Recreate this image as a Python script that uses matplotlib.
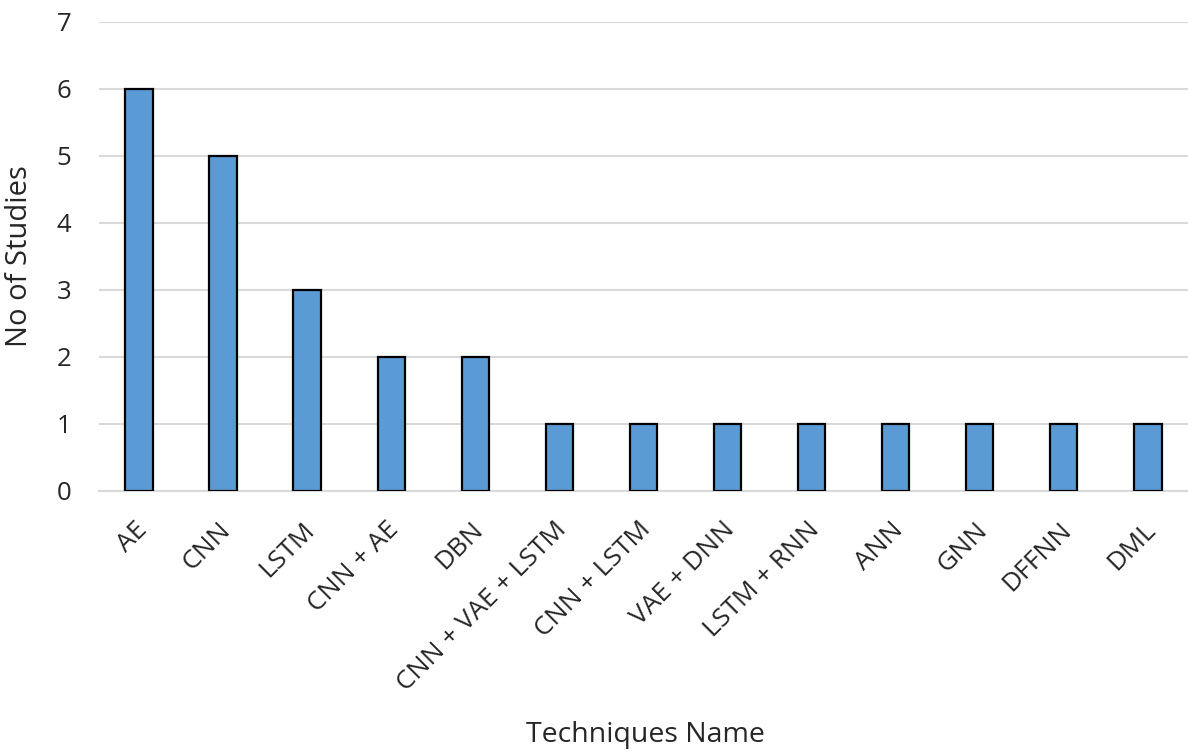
import matplotlib.pyplot as plt
import matplotlib.transforms as mtransforms

techniques = ["AE", "CNN", "LSTM", "CNN + AE", "DBN", "CNN + VAE + LSTM",
              "CNN + LSTM", "VAE + DNN", "LSTM + RNN", "ANN", "GNN", "DFFNN", "DML"]
studies = [6, 5, 3, 2, 2, 1, 1, 1, 1, 1, 1, 1, 1]

plt.rcParams['font.family'] = ['Open Sans', 'DejaVu Sans']

fig = plt.figure(figsize=(11.88, 7.53), dpi=100)
ax = fig.add_axes([0.0833, 0.348, 0.9167, 0.623])

x = range(len(techniques))
ax.bar(x, studies, width=0.33, color='#5B9BD5', edgecolor='black', linewidth=1.6, zorder=3)

ax.set_xlim(-0.48, len(techniques) - 0.52)
ax.set_ylim(0, 7)
ax.set_yticks(range(0, 8))
ax.grid(axis='y', color='#D9D9D9', linewidth=1.5, zorder=0)
ax.set_xticks(list(x))
ax.set_xticklabels(techniques, rotation=45, ha='right', rotation_mode='anchor', fontsize=19, color='#262626')
ax.tick_params(axis='y', labelsize=18.5, labelcolor='#262626', length=0, pad=20)
ax.tick_params(axis='x', length=0, pad=19)

# nudge the rotated category labels slightly left
shift = mtransforms.ScaledTranslation(-5 / 100, 0, fig.dpi_scale_trans)
for lbl in ax.get_xticklabels():
    lbl.set_transform(lbl.get_transform() + shift)

for side in ['top', 'right', 'left']:
    ax.spines[side].set_visible(False)
ax.spines['bottom'].set_color('#D9D9D9')
ax.spines['bottom'].set_linewidth(1.5)

ax.set_ylabel("No of Studies", fontsize=21, color='#262626')
ax.yaxis.set_label_coords(-0.06, 0.5)
fig.text(0.543, 0.024, "Techniques Name", ha='center', va='center', fontsize=20.5, color='#262626')

plt.savefig("out.png", dpi=100)
